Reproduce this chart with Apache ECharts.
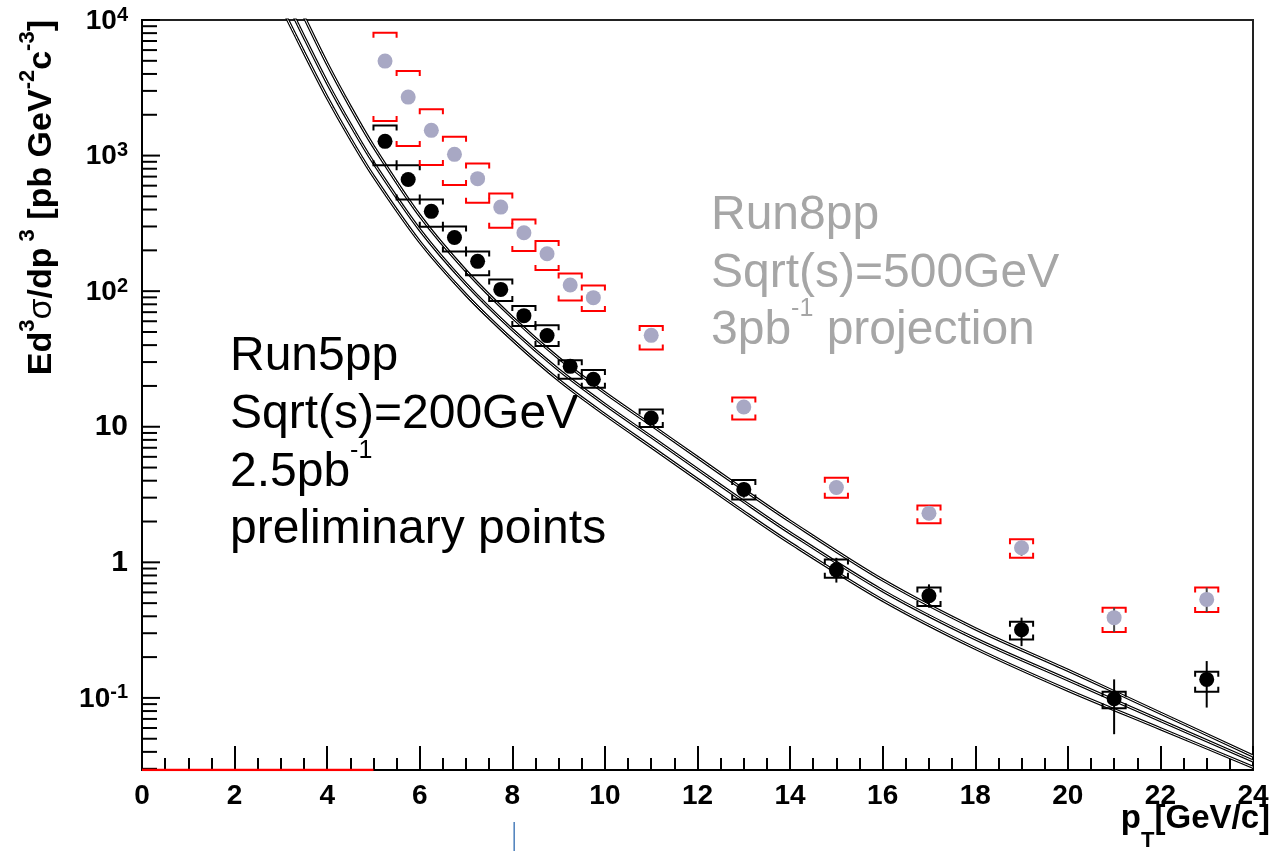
<!DOCTYPE html>
<html>
<head>
<meta charset="utf-8">
<script src="https://cdn.jsdelivr.net/npm/echarts@6/dist/echarts.min.js"></script>
<style>html,body{margin:0;padding:0;background:#fff}#c{width:1274px;height:851px}</style>
</head>
<body>
<div id="c"></div>
<script>
// ---------------- data ----------------
const ptBins = [5.25, 5.75, 6.25, 6.75, 7.25, 7.75, 8.25, 8.75, 9.25, 9.75, 11, 13, 15, 17, 19, 21, 23];

// Run5 pp 200 GeV preliminary (black)
const run5Value    = [1273, 667, 388, 249, 166, 103, 66, 47, 27.9, 22.4, 11.6, 3.45, 0.88, 0.567, 0.318, 0.0985, 0.137];
const run5SysLow   = [847, 475, 299, 196, 131, 84.5, 55.3, 39.4, 22.6, 19.4, 9.95, 2.91, 0.771, 0.476, 0.270, 0.0838, 0.111];
const run5SysHigh  = [1670, 847, 475, 300, 196, 122, 77.6, 56, 31.0, 26.2, 13.4, 4.04, 1.05, 0.651, 0.365, 0.111, 0.156];
const run5StatLow  = [1240, 650, 379, 243, 162, 100.5, 64.3, 45.7, 27.0, 21.6, 10.9, 3.0, 0.709, 0.463, 0.241, 0.054, 0.0849];
const run5StatHigh = [1306, 684, 397, 255, 170, 105.5, 67.7, 48.3, 28.8, 23.2, 12.3, 3.9, 1.08, 0.688, 0.391, 0.137, 0.187];

// Run8 pp 500 GeV projection (grey)
const run8Value    = [4977, 2700, 1535, 1021, 676, 417, 270, 189, 111, 89.6, 47.2, 14.0, 3.56, 2.30, 1.28, 0.391, 0.533];
const run8SysLow   = [1797, 1175, 851, 606, 449, 294, 198, 143, 85.5, 71.3, 37.2, 11.3, 3.0, 1.94, 1.083, 0.306, 0.430];
const run8SysHigh  = [8060, 4200, 2192, 1378, 876, 526, 338, 234, 135, 110, 55.3, 16.4, 4.21, 2.63, 1.478, 0.463, 0.651];
const run8StatLow  = [4900, 2660, 1515, 1008, 668, 412, 267, 187, 110, 88.6, 46.5, 13.6, 3.2, 2.05, 1.12, 0.306, 0.430];
const run8StatHigh = [5050, 2740, 1555, 1034, 684, 422, 273, 191, 112, 90.6, 47.9, 14.4, 3.95, 2.55, 1.44, 0.463, 0.651];

// NLO pQCD curves (three scale choices)
const theoryPt      = [3.0, 3.5, 4.0, 4.5, 5.0, 6.0, 7.0, 8.0, 9.0, 10, 11, 12, 13, 14, 16, 18, 20, 22, 24];
const theoryUpper   = [23900, 10590, 4760, 2296, 1170, 361, 141, 64.0, 32.1, 17.8, 10.3, 5.94, 3.43, 2.01, 0.741, 0.324, 0.160, 0.0773, 0.0373];
const theoryCentral = [16750, 7500, 3450, 1702, 887, 284, 113, 52.0, 26.3, 14.6, 8.43, 4.86, 2.81, 1.65, 0.617, 0.273, 0.136, 0.0681, 0.0343];
const theoryLower   = [12700, 5750, 2680, 1337, 705, 231, 94.0, 43.8, 22.1, 12.3, 7.10, 4.09, 2.36, 1.39, 0.525, 0.232, 0.114, 0.0593, 0.0308];

// red segment along the bottom axis
const redSegmentPt = [0, 5];

// axis ticks / labels
const xTickLabels = ['0', '2', '4', '6', '8', '10', '12', '14', '16', '18', '20', '22', '24'];
const yTickValues = [0.1, 1, 10, 100, 1000, 10000];
const yTickLabels = ['10^{-1}', '1', '10', '10^{2}', '10^{3}', '10^{4}'];
const yMin = 0.0294, yMax = 10000;

// annotation texts
const run5Text = ['Run5pp', 'Sqrt(s)=200GeV', '2.5pb^{-1}', 'preliminary points'];
const run8Text = ['Run8pp', 'Sqrt(s)=500GeV', '3pb^{-1} projection'];
const yTitle = 'Ed^{3}σ/dp^{ 3} [pb GeV^{-2}c^{-3}]';
const blueMarkPt = 8.04;

// ---------------- chart ----------------
const FONT = '"Liberation Sans", Arial, Helvetica, sans-serif';
const BIN_HALF = 0.25;

function richify(str, normal, sup, extra) {
  const parts = str.split(/\^\{([^}]*)\}/);
  return parts.map((p, i) => {
    if (p === '') return '';
    if (i % 2) return '{' + sup + '|' + p + '}';
    if (extra) {
      return p.split('σ').map(s => s === '' ? '' : '{' + normal + '|' + s + '}').join('{g|σ}');
    }
    return '{' + normal + '|' + p + '}';
  }).join('');
}

function bracketSeries(lo, hi, color, z) {
  return {
    type: 'custom', silent: true, z: z,
    data: ptBins.map((x, i) => [x, lo[i], hi[i]]),
    encode: { x: 0, y: [1, 2] },
    renderItem(params, api) {
      const x = api.value(0), l = api.value(1), h = api.value(2);
      const hl = api.coord([x - BIN_HALF, h]), hr = api.coord([x + BIN_HALF, h]);
      const ll = api.coord([x - BIN_HALF, l]), lr = api.coord([x + BIN_HALF, l]);
      const t = 5;
      const st = { stroke: color, lineWidth: 2, fill: 'none' };
      return { type: 'group', children: [
        { type: 'polyline', shape: { points: [[hl[0], hl[1] + t], hl, hr, [hr[0], hr[1] + t]] }, style: st },
        { type: 'polyline', shape: { points: [[ll[0], ll[1] - t], ll, lr, [lr[0], lr[1] - t]] }, style: st }
      ]};
    }
  };
}

function statSeries(lo, hi, color, z) {
  return {
    type: 'custom', silent: true, z: z,
    data: ptBins.map((x, i) => [x, lo[i], hi[i]]),
    encode: { x: 0, y: [1, 2] },
    renderItem(params, api) {
      const x = api.value(0);
      const a = api.coord([x, api.value(1)]), b = api.coord([x, api.value(2)]);
      return { type: 'line', shape: { x1: a[0], y1: a[1], x2: b[0], y2: b[1] },
        style: { stroke: color, lineWidth: 2 } };
    }
  };
}

// y-axis tick positions (major decades + 2..9 minor)
const yTickData = [];
for (let k = -2; k <= 4; k++) {
  for (let m = 1; m <= 9; m++) {
    const v = m * Math.pow(10, k);
    if (v >= yMin * 0.999 && v <= yMax * 1.001) yTickData.push([0, v, m === 1 ? 1 : 0]);
  }
}

function theoryLine(values) {
  return [
    { type: 'line', silent: true, z: 2, smooth: 0.3, showSymbol: false, symbol: 'none',
      data: theoryPt.map((x, i) => [x, values[i]]),
      lineStyle: { color: '#000', width: 3.2 } },
    { type: 'line', silent: true, z: 2, smooth: 0.3, showSymbol: false, symbol: 'none',
      data: theoryPt.map((x, i) => [x, values[i]]),
      lineStyle: { color: '#fff', width: 1 } }
  ];
}

const chart = echarts.init(document.getElementById('c'), null, { renderer: 'canvas' });

const labelRich = {
  p: { fontSize: 30, fontWeight: 'bold', fontFamily: FONT, color: '#000', lineHeight: 30 },
  b: { fontSize: 28, fontWeight: 'bold', fontFamily: FONT, color: '#000', lineHeight: 30, verticalAlign: 'bottom' },
  s: { fontSize: 20, fontWeight: 'bold', fontFamily: FONT, color: '#000', lineHeight: 12, verticalAlign: 'top' }
};

const option = {
  animation: false,
  backgroundColor: '#fff',
  grid: { left: 142, right: 21, top: 20, bottom: 81, show: true, borderColor: '#222', borderWidth: 2 },
  xAxis: {
    type: 'value', min: 0, max: 24, interval: 2,
    axisLine: { lineStyle: { color: '#000', width: 2 } },
    axisTick: { inside: true, length: 24, lineStyle: { color: '#000', width: 2 } },
    minorTick: { show: true, splitNumber: 4, length: 12, lineStyle: { color: '#000', width: 2 } },
    splitLine: { show: false },
    axisLabel: {
      margin: 12, color: '#000', fontSize: 28, fontWeight: 'bold', fontFamily: FONT,
      formatter: v => xTickLabels[Math.round(v / 2)] || ''
    }
  },
  yAxis: {
    type: 'log', logBase: 10, min: yMin, max: yMax,
    axisLine: { lineStyle: { color: '#000', width: 2 } },
    axisTick: { show: false },
    splitLine: { show: false },
    axisLabel: {
      margin: 14, rich: labelRich,
      formatter: v => {
        const i = yTickValues.findIndex(t => Math.abs(Math.log10(v) - Math.log10(t)) < 1e-6);
        if (i < 0) return '';
        const lab = yTickLabels[i];
        return lab.indexOf('^') >= 0 ? richify(lab, 'b', 's') : '{p|' + lab + '}';
      }
    }
  },
  series: [
    ...theoryLine(theoryLower),
    ...theoryLine(theoryCentral),
    ...theoryLine(theoryUpper),
    bracketSeries(run5SysLow, run5SysHigh, '#000', 4),
    bracketSeries(run8SysLow, run8SysHigh, '#ff0000', 4),
    statSeries(run5StatLow, run5StatHigh, '#000', 5),
    statSeries(run8StatLow, run8StatHigh, '#4a4a4a', 5),
    { type: 'scatter', silent: true, z: 6, symbol: 'circle', symbolSize: 15,
      data: ptBins.map((x, i) => [x, run8Value[i]]),
      itemStyle: { color: '#a8a8c4', opacity: 1 } },
    { type: 'scatter', silent: true, z: 6, symbol: 'circle', symbolSize: 15,
      data: ptBins.map((x, i) => [x, run5Value[i]]),
      itemStyle: { color: '#000', opacity: 1 } },
    // y-axis ticks drawn inward from the left axis
    { type: 'custom', silent: true, z: 7, data: yTickData, encode: { x: 0, y: 1 },
      renderItem(params, api) {
        const p = api.coord([0, api.value(1)]);
        const len = api.value(2) ? 18 : 15;
        return { type: 'line', shape: { x1: p[0], y1: p[1], x2: p[0] + len, y2: p[1] },
          style: { stroke: '#000', lineWidth: 2 } };
      } },
    // red segment along the bottom
    { type: 'line', silent: true, z: 8, symbol: 'none', showSymbol: false,
      data: redSegmentPt.map(x => [x, yMin]),
      lineStyle: { color: '#ff0000', width: 2.5 } }
  ]
};

// text annotations (zrender text styles use `fill` for colour)
const graphics = [];
const bigRich = (color) => ({
  a: { fontSize: 48, fontFamily: FONT, fill: color, lineHeight: 58, verticalAlign: 'bottom' },
  s: { fontSize: 25, fontFamily: FONT, fill: color, lineHeight: 48, verticalAlign: 'top' }
});
run5Text.forEach((t, i) => graphics.push({
  type: 'text', x: 230, y: 352 + i * 57.7, silent: true,
  style: { text: richify(t, 'a', 's'), rich: bigRich('#000'), fill: '#000', align: 'left', verticalAlign: 'middle' }
}));
run8Text.forEach((t, i) => graphics.push({
  type: 'text', x: 711, y: 211 + i * 57.3, silent: true,
  style: { text: richify(t, 'a', 's'), rich: bigRich('#a6a6a6'), fill: '#a6a6a6', align: 'left', verticalAlign: 'middle' }
}));
graphics.push({
  type: 'text', x: 38, y: 20, rotation: Math.PI / 2, silent: true,
  style: {
    text: richify(yTitle, 'a', 's', true), align: 'right', verticalAlign: 'middle', fill: '#000',
    rich: {
      a: { fontSize: 34, fontWeight: 'bold', fontFamily: FONT, fill: '#000', lineHeight: 42, verticalAlign: 'bottom' },
      g: { fontSize: 34, fontFamily: FONT, fill: '#000', lineHeight: 42, verticalAlign: 'bottom' },
      s: { fontSize: 22, fontWeight: 'bold', fontFamily: FONT, fill: '#000', lineHeight: 30, verticalAlign: 'top' }
    }
  }
});
graphics.push({
  type: 'text', x: 1270, y: 827, silent: true,
  style: {
    text: '{a|p}{t|T}{a|[GeV/c]}', align: 'right', verticalAlign: 'middle', fill: '#000',
    rich: {
      a: { fontSize: 33, fontWeight: 'bold', fontFamily: FONT, fill: '#000', lineHeight: 38, verticalAlign: 'top' },
      t: { fontSize: 22, fontWeight: 'bold', fontFamily: FONT, fill: '#000', lineHeight: 50, verticalAlign: 'bottom' }
    }
  }
});
option.graphic = graphics;
chart.setOption(option);

// small stray blue mark under the axis
const bx = chart.convertToPixel({ xAxisIndex: 0 }, blueMarkPt);
chart.setOption({ graphic: graphics.concat([{
  type: 'line', silent: true, shape: { x1: bx, y1: 822, x2: bx, y2: 851 },
  style: { stroke: '#4a7ebb', lineWidth: 1.5 }
}]) });
</script>
</body>
</html>
